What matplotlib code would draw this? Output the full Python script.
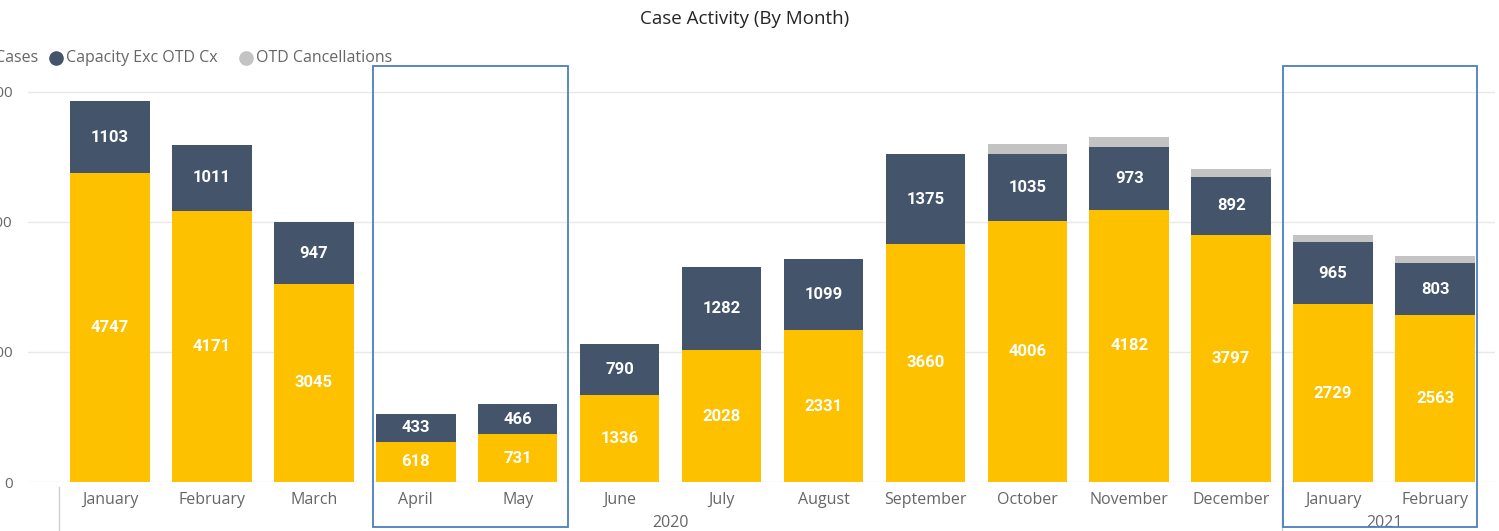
import numpy as np
import matplotlib.pyplot as plt
from matplotlib.patches import Rectangle
from matplotlib.lines import Line2D

months = ["January", "February", "March", "April", "May", "June", "July",
          "August", "September", "October", "November", "December",
          "January", "February"]
cases = [4747, 4171, 3045, 618, 731, 1336, 2028, 2331, 3660, 4006, 4182, 3797, 2729, 2563]
capacity = [1103, 1011, 947, 433, 466, 790, 1282, 1099, 1375, 1035, 973, 892, 965, 803]
otd_cx = [0, 0, 0, 0, 0, 0, 0, 0, 0, 150, 150, 120, 110, 110]
years = [("2020", 0, 11), ("2021", 12, 13)]
yticks = [0, 2000, 4000, 6000]

yellow = "#FDC100"
navy = "#44546A"
grey = "#C3C3C3"
txtgrey = "#666666"

W, H = 1499, 531
fig = plt.figure(figsize=(W / 100, H / 100), dpi=100)
ax = fig.add_axes([28 / W, 49 / H, (1495 - 28) / W, (482 - 80) / H])

x = np.arange(len(months))
cases = np.array(cases)
capacity = np.array(capacity)
otd_cx = np.array(otd_cx)
bw = 0.78
ax.bar(x, cases, bw, color=yellow, zorder=3)
ax.bar(x, capacity, bw, bottom=cases, color=navy, zorder=3)
ax.bar(x, otd_cx, bw, bottom=cases + capacity, color=grey, zorder=3)

for i in range(len(x)):
    ax.text(x[i], cases[i] / 2, str(cases[i]), ha="center", va="center",
            color="white", fontsize=12, fontweight="bold", family="Roboto", zorder=4)
    ax.text(x[i], cases[i] + capacity[i] / 2, str(capacity[i]), ha="center", va="center",
            color="white", fontsize=12, fontweight="bold", family="Roboto", zorder=4)

sp = 101.85
ax.set_xlim(-0.5 - 31 / sp, 13.5 + 9 / sp)
ax.set_ylim(0, 6180)
ax.set_yticks(yticks)
ax.set_yticklabels([str(v) for v in yticks], color=txtgrey, fontsize=11, family="Open Sans")
ax.set_xticks(x)
ax.set_xticklabels(months, color=txtgrey, fontsize=11.5, family="Open Sans")
ax.tick_params(axis="y", length=0, pad=11)
ax.tick_params(axis="x", length=0, pad=7)
ax.grid(axis="y", color="#E8E8E8", linewidth=1, zorder=0)
for s in ax.spines.values():
    s.set_visible(False)

tr = ax.get_xaxis_transform()
for name, a, b in years:
    ax.text((a + b) / 2, -0.102, name, transform=tr, ha="center", va="center",
            color=txtgrey, fontsize=11.5, family="Open Sans")
for xs in [-0.5, 11.5]:
    ax.add_line(Line2D([xs, xs], [-0.012, -0.13], transform=tr, color="#D0D0D0",
                       linewidth=1, clip_on=False))

# highlight boxes
for x0, x1 in [(2.58, 4.49), (11.51, 13.41)]:
    ax.add_patch(Rectangle((x0, -0.112), x1 - x0, 1.147, transform=tr, fill=False,
                           edgecolor="#4A7EC0", linewidth=1.3, clip_on=False, zorder=5))

fig.text(745 / W, 1 - 19 / H, "Case Activity (By Month)", ha="center", va="center",
         fontsize=13.5, color="#252423", family="Open Sans")

# legend
ly = 1 - 58 / H
fig.text(38 / W, ly, "Cases", ha="right", va="center", fontsize=11.5, color=txtgrey,
         family="Open Sans")
fig.add_artist(Line2D([56 / W], [ly], marker="o", markersize=9.5, color=navy,
                      transform=fig.transFigure))
fig.text(66 / W, ly, "Capacity Exc OTD Cx", ha="left", va="center", fontsize=11.5,
         color=txtgrey, family="Open Sans")
fig.add_artist(Line2D([246 / W], [ly], marker="o", markersize=9.5, color=grey,
                      transform=fig.transFigure))
fig.text(256 / W, ly, "OTD Cancellations", ha="left", va="center", fontsize=11.5,
         color=txtgrey, family="Open Sans")

fig.savefig("out.png", dpi=100)
